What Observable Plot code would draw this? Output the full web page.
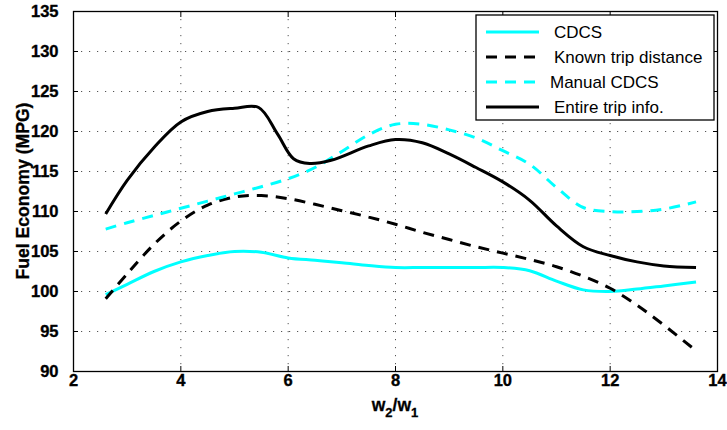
<!DOCTYPE html>
<html><head><meta charset="utf-8">
<script src="https://cdn.jsdelivr.net/npm/d3@7"></script>
<script src="https://cdn.jsdelivr.net/npm/@observablehq/plot@0.6"></script>
<style>
body{margin:0;background:#fff;}
#wrap{position:relative;width:727px;height:430px;}
</style></head><body><div id="wrap"></div>
<script>
const xTicks = [2, 4, 6, 8, 10, 12, 14];
const yTicks = [90, 95, 100, 105, 110, 115, 120, 125, 130, 135];

const seriesNames = ["CDCS", "Known trip distance", "Manual CDCS", "Entire trip info."];

const commonX = [2.6, 3.0, 3.5, 4.0, 4.5, 5.0, 5.5, 6.0, 6.5, 7.0, 7.5, 8.0, 8.5, 9.0, 9.5, 10.0, 10.5, 11.0, 11.5, 12.0, 12.5, 13.0, 13.6];
const cdcsY   = [99.6, 100.9, 102.5, 103.7, 104.5, 105.0, 104.9, 104.2, 103.9, 103.6, 103.25, 103.0, 103.0, 103.0, 103.0, 103.0, 102.6, 101.3, 100.2, 100.0, 100.3, 100.7, 101.2];
const knownY  = [99.1, 102.2, 105.9, 108.8, 110.8, 111.8, 112.0, 111.6, 110.9, 110.1, 109.3, 108.4, 107.4, 106.5, 105.6, 104.8, 104.0, 103.1, 101.9, 100.4, 98.3, 95.8, 92.6];
const manualY = [107.8, 108.6, 109.5, 110.4, 111.3, 112.2, 113.1, 114.1, 115.5, 117.5, 119.6, 120.9, 120.9, 120.2, 119.2, 117.6, 115.9, 113.0, 110.5, 110.0, 110.0, 110.3, 111.2];
const entireX = [2.6, 3.0, 3.5, 4.0, 4.5, 5.0, 5.45, 5.8, 6.1, 6.4, 6.8, 7.5, 8.0, 8.5, 9.0, 9.5, 10.0, 10.5, 11.0, 11.5, 12.0, 12.5, 13.0, 13.6];
const entireY = [109.7, 113.9, 118.0, 121.2, 122.5, 122.9, 123.0, 119.7, 116.6, 116.0, 116.4, 118.2, 119.0, 118.6, 117.2, 115.5, 113.7, 111.4, 108.2, 105.6, 104.5, 103.7, 103.2, 103.0];

const styles = [
  {stroke: "#00ffff", dash: null},
  {stroke: "#000000", dash: "11,8"},
  {stroke: "#00ffff", dash: "11,8"},
  {stroke: "#000000", dash: null}
];

const toRows = (xs, ys) => xs.map((x, i) => ({x, y: ys[i]}));
const seriesData = [
  toRows(commonX, cdcsY),
  toRows(commonX, knownY),
  toRows(commonX, manualY),
  toRows(entireX, entireY)
];

const FAMILY = "Liberation Sans, Arial, sans-serif";
const tickText = {fontSize: 16.5, fontWeight: "bold", fontFamily: FAMILY, fill: "#000", stroke: "#000", strokeWidth: 0.35, fontVariant: "normal"};

const chart = Plot.plot({
  width: 727, height: 430,
  marginLeft: 73, marginRight: 10, marginTop: 11, marginBottom: 59,
  style: {background: "#fff", color: "#000", overflow: "visible"},
  x: {domain: [2, 14]},
  y: {domain: [90, 135]},
  marks: [
    Plot.gridX(xTicks.slice(1, -1), {stroke: "#555", strokeOpacity: 1, strokeDasharray: "1.2,6.8"}),
    Plot.gridY(yTicks.slice(1, -1), {stroke: "#555", strokeOpacity: 1, strokeDasharray: "1.2,6.8"}),
    Plot.axisX(xTicks, {anchor: "bottom", tickSize: -5, text: null, label: null}),
    Plot.axisX(xTicks, {anchor: "top", tickSize: -5, text: null, label: null}),
    Plot.axisY(yTicks, {anchor: "left", tickSize: -5, text: null, label: null}),
    Plot.axisY(yTicks, {anchor: "right", tickSize: -5, text: null, label: null}),
    Plot.text(xTicks, {x: d => d, frameAnchor: "bottom", dy: 14, text: d => String(d), ...tickText}),
    Plot.text(yTicks, {y: d => d, frameAnchor: "left", dx: -15, textAnchor: "end", text: d => String(d), ...tickText}),
    ...seriesData.map((d, i) => Plot.line(d, {
      x: "x", y: "y", curve: "catmull-rom",
      stroke: styles[i].stroke, strokeWidth: 3,
      strokeDasharray: styles[i].dash, strokeLinecap: "butt"
    })),
    Plot.frame({stroke: "#000", strokeWidth: 1.3})
  ]
});

document.getElementById("wrap").appendChild(chart);
const svg = d3.select(chart);

// y-axis title
svg.append("text")
  .attr("transform", "translate(29,191) rotate(-90)")
  .attr("text-anchor", "middle")
  .attr("font-family", FAMILY)
  .attr("font-size", 17.6).attr("font-weight", "bold").attr("fill", "#000")
  .attr("stroke", "#000").attr("stroke-width", 0.3)
  .text("Fuel Economy (MPG)");

// x-axis title w2/w1 with subscripts
const xt = svg.append("text")
  .attr("x", 395).attr("y", 411)
  .attr("text-anchor", "middle")
  .attr("font-family", FAMILY)
  .attr("font-size", 17.5).attr("font-weight", "bold").attr("fill", "#000")
  .attr("stroke", "#000").attr("stroke-width", 0.3);
xt.append("tspan").text("w");
xt.append("tspan").attr("font-size", 13).attr("dy", 6).text("2");
xt.append("tspan").attr("dy", -6).text("/w");
xt.append("tspan").attr("font-size", 13).attr("dy", 6).text("1");

// legend
const lg = svg.append("g").attr("transform", "translate(476,15)");
lg.append("rect").attr("width", 238).attr("height", 105)
  .attr("fill", "#fff").attr("stroke", "#000").attr("stroke-width", 1.3);
seriesNames.forEach((name, i) => {
  const yy = 17 + i * 25;
  lg.append("line").attr("x1", 10).attr("x2", 63).attr("y1", yy).attr("y2", yy)
    .attr("stroke", styles[i].stroke).attr("stroke-width", 3)
    .attr("stroke-dasharray", styles[i].dash);
  lg.append("text").attr("x", i === 2 ? 74 : 78).attr("y", yy).attr("dy", "0.36em")
    .attr("text-anchor", "start")
    .attr("font-family", FAMILY).attr("font-size", 17).attr("font-weight", "normal").attr("fill", "#000")
    .text(name);
});
</script></body></html>
